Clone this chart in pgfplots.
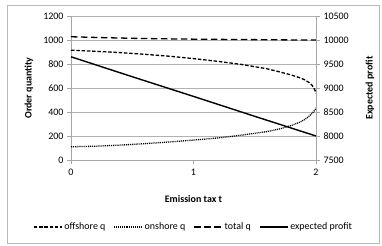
\documentclass[border=0pt]{standalone}
\usepackage{pgfplots}
\pgfplotsset{compat=1.18}
\usepackage{fontspec}
\setmainfont{Carlito}
\begin{document}
\begin{tikzpicture}
\useasboundingbox (-71bp,-86bp) rectangle (311bp,160bp);
\draw[gray!55, line width=0.8bp] (-64bp,-83bp) rectangle (308bp,155bp);
\pgfplotsset{
  base/.style={
    scale only axis, width=245bp, height=144bp,
    at={(0,0)}, anchor=south west,
    xmin=0, xmax=2,
    axis line style={gray!70, line width=0.6bp},
    tick style={gray!70, line width=0.6bp},
    major tick length=4bp,
    tick align=outside,
    scaled y ticks=false,
    tick label style={font=\fontsize{10}{12}\selectfont},
    label style={font=\fontsize{10}{12}\selectfont\bfseries},
    /pgf/number format/assume math mode=true,
    /pgf/number format/set thousands separator={},
    clip=false,
  },
  offs/.style={black, line width=1.3bp, dash pattern=on 3.5bp off 1.8bp},
  ons/.style={black, line width=1.3bp, dash pattern=on 1bp off 0.9bp},
  tot/.style={black, line width=1.3bp, dash pattern=on 6.5bp off 3.5bp},
  prof/.style={black, line width=1.4bp},
}
\begin{axis}[base,
  ymin=0, ymax=1200,
  axis x line*=bottom, axis y line*=left,
  xtick={0,1,2}, ytick={0,200,400,600,800,1000,1200},
  ymajorgrids, grid style={gray!60, line width=0.6bp},
  xticklabel style={yshift=-2bp},
  xlabel={Emission tax t},
  xlabel style={at={([yshift=-39bp]axis description cs:0.5,0)}, anchor=center},
  ylabel={Order quantity},
  ylabel style={at={([xshift=-42bp]axis description cs:0,0.5)}, anchor=center},
]
\addplot[offs] coordinates {
(0,915) (0.2,906) (0.4,895) (0.6,881) (0.8,865) (1.0,845) (1.2,822) (1.4,795)
(1.6,760) (1.7,735) (1.8,708) (1.86,688) (1.9,672) (1.94,648) (1.97,620) (1.99,585) (2.0,555)
};
\addplot[ons] coordinates {
(0,110) (0.2,115) (0.4,124) (0.6,136) (0.8,150) (1.0,166) (1.2,184) (1.4,208)
(1.6,237) (1.7,258) (1.8,288) (1.86,312) (1.9,332) (1.94,362) (1.97,390) (1.99,415) (2.0,435)
};
\addplot[tot] coordinates {
(0,1027) (0.25,1020) (0.5,1014) (0.75,1010) (1.0,1007) (1.25,1005) (1.5,1003) (1.75,1001) (2.0,1000)
};
\end{axis}
\begin{axis}[base,
  ymin=7500, ymax=10500,
  axis y line*=right, axis x line=none,
  ytick={7500,8000,8500,9000,9500,10000,10500},
  ylabel={Expected profit},
  ylabel style={at={([xshift=54bp]axis description cs:1,0.5)}, anchor=center},
  legend columns=4,
  legend style={at={(0.5,-0.465)}, anchor=center, draw=none, fill=none,
    font=\fontsize{10}{12}\selectfont,
    /tikz/every even column/.append style={column sep=6bp},
    inner sep=0pt},
  legend image code/.code={\draw[#1] (0bp,0bp) -- (28bp,0bp);},
]
\addlegendimage{offs}\addlegendentry{offshore q}
\addlegendimage{ons}\addlegendentry{onshore q}
\addlegendimage{tot}\addlegendentry{total q}
\addplot[prof] coordinates {
(0,9650) (0.5,9235) (1.0,8825) (1.5,8410) (2.0,8000)
};
\addlegendentry{expected profit}
\end{axis}
\end{tikzpicture}
\end{document}
